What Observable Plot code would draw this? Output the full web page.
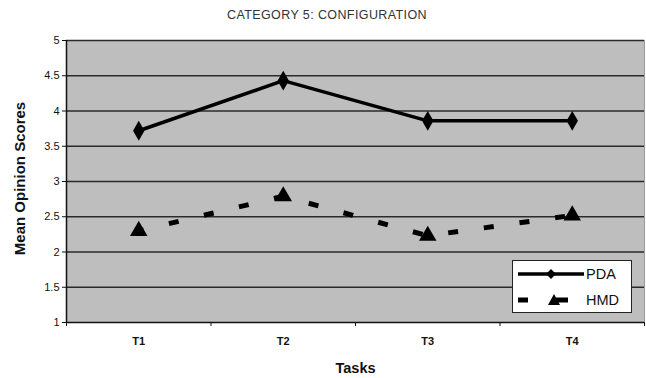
<!DOCTYPE html>
<html><head><meta charset="utf-8">
<script src="https://cdn.jsdelivr.net/npm/d3@7"></script>
<script src="https://cdn.jsdelivr.net/npm/@observablehq/plot@0.6"></script>
<style>
html,body{margin:0;padding:0;background:#fff;}
#wrap{position:relative;width:646px;height:378px;font-family:"Liberation Sans",Arial,sans-serif;}
#title{position:absolute;left:0;width:654px;top:8px;text-align:center;font-size:12.5px;color:#333;letter-spacing:0.4px;}
#legend{position:absolute;left:512px;top:260px;width:118px;height:51px;background:#fff;border:1.5px solid #222;font-size:14.5px;color:#111;}
#legend .row{position:absolute;left:3px;height:20px;display:flex;align-items:center;}
</style>
</head><body>
<div id="wrap">
<div id="title">CATEGORY 5: CONFIGURATION</div>
<div id="chart"></div>
<div id="legend">
 <div class="row" style="top:3px"><svg width="70" height="20"><line x1="2" y1="10" x2="68" y2="10" stroke="#000" stroke-width="3.5"/><path d="M35,5 L40,10 L35,15 L30,10Z" fill="#000"/></svg><span>PDA</span></div>
 <div class="row" style="top:29px"><svg width="70" height="20"><line x1="2" y1="10" x2="12" y2="10" stroke="#000" stroke-width="5"/><line x1="40" y1="10" x2="52" y2="10" stroke="#000" stroke-width="5"/><path d="M38,4 L44,15 L32,15Z" fill="#000"/></svg><span>HMD</span></div>
</div>
</div>
<script>
const categories = ["T1", "T2", "T3", "T4"];
const pdaValues = [3.72, 4.43, 3.86, 3.86];
const hmdValues = [2.30, 2.79, 2.23, 2.52];
const yTicks = [1, 1.5, 2, 2.5, 3, 3.5, 4, 4.5, 5];
const seriesNames = ["PDA", "HMD"];

const pda = categories.map((c, i) => ({i: i + 0.5, task: c, value: pdaValues[i], series: seriesNames[0]}));
const hmd = categories.map((c, i) => ({i: i + 0.5, task: c, value: hmdValues[i], series: seriesNames[1]}));
const boundaries = d3.range(categories.length + 1);

const chart = Plot.plot({
  width: 646,
  height: 378,
  marginLeft: 66,
  marginRight: 2,
  marginTop: 40,
  marginBottom: 56,
  style: {fontFamily: "Liberation Sans, Arial, sans-serif", background: "transparent", color: "#111"},
  x: {domain: [0, categories.length], axis: null},
  y: {domain: [1, 5], axis: null},
  marks: [
    Plot.frame({fill: "#bebebe", stroke: "#9a9a9a"}),
    Plot.ruleY(yTicks.filter(d => d > 1), {stroke: "#2a2a2a", strokeWidth: 1.5}),
    Plot.ruleX([0], {stroke: "#111", strokeWidth: 1.5}),
    Plot.ruleY([1], {stroke: "#111", strokeWidth: 1.5}),
    Plot.axisY({ticks: yTicks, tickSize: 4, tickFormat: d => String(d), fontSize: 11, tickPadding: 3, label: null}),
    Plot.axisX({ticks: boundaries, tickSize: 4, tickFormat: () => "", label: null}),
    Plot.axisX({ticks: categories.map((c, i) => i + 0.5), tickSize: 0, tickPadding: 15, tickFormat: d => categories[d - 0.5], fontSize: 11, fontWeight: "bold", label: null}),
    Plot.text(["Mean Opinion Scores"], {frameAnchor: "left", textAnchor: "middle", rotate: -90, dx: -46, dy: -3, fontSize: 15, fontWeight: "bold"}),
    Plot.text(["Tasks"], {frameAnchor: "bottom", dx: 0, dy: 50, fontSize: 14.5, fontWeight: "bold"}),
    Plot.line(pda, {x: "i", y: "value", stroke: "#000", strokeWidth: 3.5}),
    Plot.dot(pda, {x: "i", y: "value", symbol: "diamond", r: 6, fill: "#000", stroke: "none"}),
    Plot.line(hmd, {x: "i", y: "value", stroke: "#000", strokeWidth: 5, strokeLinecap: "butt", strokeDasharray: "10,26", strokeDashoffset: 5}),
    Plot.dot(hmd, {x: "i", y: "value", symbol: "triangle", r: 6.5, fill: "#000", stroke: "none"})
  ]
});
document.getElementById("chart").appendChild(chart);
</script>
</body></html>
